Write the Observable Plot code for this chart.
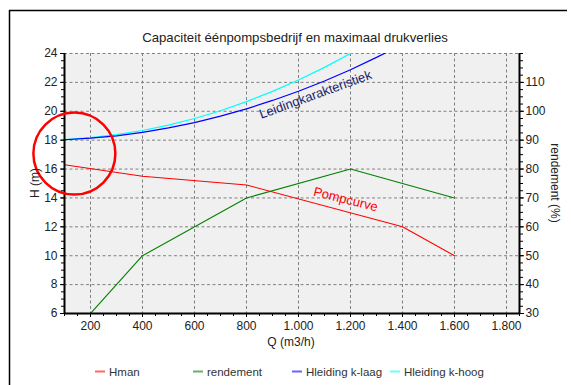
<!DOCTYPE html>
<html><head><meta charset="utf-8">
<script src="https://cdn.jsdelivr.net/npm/d3@7"></script>
<script src="https://cdn.jsdelivr.net/npm/@observablehq/plot@0.6"></script>
<style>body{margin:0;background:#fff;} svg{display:block}</style>
</head><body><div id="chart"></div>
<script>
// Pompcurve (Hman)
const qHman = [100, 400, 800, 1400, 1600];
const hman = [16.3, 15.5, 14.9, 12.0, 10.0];
// Rendement (%)
const qRend = [200, 400, 800, 1200, 1600];
const rendement = [30, 50, 70, 80, 70];
// Leidingkarakteristiek k-laag
const qLaag = [100, 200, 300, 400, 500, 600, 700, 800, 900, 1000, 1100, 1200, 1300, 1350];
const hLaag = [18.03, 18.14, 18.30, 18.54, 18.85, 19.22, 19.66, 20.17, 20.75, 21.39, 22.10, 22.88, 23.73, 24.18];
// Leidingkarakteristiek k-hoog
const qHoog = [100, 200, 300, 400, 500, 600, 700, 800, 900, 1000, 1100, 1200, 1250];
const hHoog = [18.04, 18.17, 18.38, 18.67, 19.04, 19.50, 20.04, 20.67, 21.38, 22.17, 23.04, 24.00, 24.50];

const xTicks = [200, 400, 600, 800, 1000, 1200, 1400, 1600, 1800];
const yTicks = [6, 8, 10, 12, 14, 16, 18, 20, 22, 24];
const rTicks = [30, 40, 50, 60, 70, 80, 90, 100, 110];

const seriesNames = ["Hman", "rendement", "Hleiding k-laag", "Hleiding k-hoog"];
const seriesColors = ["#ff0000", "#008000", "#0000ff", "#00ffff"];

const curveLabels = [
  {q: 1065, h: 21.15, text: "Leidingkarakteristiek", color: "#1c1c6c", rotate: -20},
  {q: 1181, h: 13.9, text: "Pompcurve", color: "#ff0000", rotate: 14}
];
const circleMark = [{q: 138, h: 17.07}];

// right axis (rendement) shares the H scale: 30% at H=6, 5% per metre
const toH = r => 6 + (r - 30) / 5;
const fromH = h => 30 + (h - 6) * 5;

const nl = d3.formatLocale({decimal: ",", thousands: ".", grouping: [3], currency: ["€", ""]});
const fmtX = nl.format(",");

const hmanData = qHman.map((q, i) => ({q, v: hman[i]}));
const rendData = qRend.map((q, i) => ({q, v: toH(rendement[i])}));
const laagData = qLaag.map((q, i) => ({q, v: hLaag[i]}));
const hoogData = qHoog.map((q, i) => ({q, v: hHoog[i]}));

const W = 571, H = 385;
const gridStyle = {stroke: "#808080", strokeOpacity: 1, strokeDasharray: "3,2.5", strokeWidth: 1};

const chart = Plot.plot({
  width: W, height: H,
  marginLeft: 64, marginRight: 52, marginTop: 53, marginBottom: 72,
  style: {fontFamily: "'Liberation Sans', Arial, sans-serif", fontSize: "12px", color: "#222", background: "#fff"},
  x: {domain: [100, 1850]},
  y: {domain: [6, 24]},
  marks: [
    Plot.frame({fill: "#f0f0f0", stroke: null}),
    Plot.gridX(xTicks, gridStyle),
    Plot.gridY(yTicks, gridStyle),
    Plot.line(hoogData, {x: "q", y: "v", stroke: seriesColors[3], strokeWidth: 1.2, clip: true}),
    Plot.line(laagData, {x: "q", y: "v", stroke: seriesColors[2], strokeWidth: 1.2, clip: true}),
    Plot.line(rendData, {x: "q", y: "v", stroke: seriesColors[1], strokeWidth: 1.1, clip: true}),
    Plot.line(hmanData, {x: "q", y: "v", stroke: seriesColors[0], strokeWidth: 1.1, clip: true}),
    Plot.text(curveLabels, {x: "q", y: "h", text: "text", fill: "color", rotate: "rotate", fontSize: 13}),
    // axes
    Plot.axisX(xTicks, {anchor: "bottom", tickSize: 4, tickPadding: 4, tickFormat: fmtX, label: null, stroke: "#000", fill: "#222"}),
    Plot.axisX(d3.range(100, 1851, 50), {anchor: "bottom", tickSize: 3, tickFormat: () => "", label: null, stroke: "#000"}),
    Plot.axisY(yTicks, {anchor: "left", tickSize: 4, tickPadding: 3, label: null, stroke: "#000", fill: "#222"}),
    Plot.axisY(d3.range(6, 24.01, 0.5), {anchor: "left", tickSize: 3, tickFormat: () => "", label: null, stroke: "#000"}),
    Plot.axisY(rTicks.map(toH), {anchor: "right", tickSize: 4, tickPadding: 2, tickFormat: d => Math.round(fromH(d)), label: null, stroke: "#000", fill: "#222"}),
    Plot.axisY(d3.range(30, 120.01, 2.5).map(toH), {anchor: "right", tickSize: 3, tickFormat: () => "", label: null, stroke: "#000"}),
    Plot.ruleX([100, 1850], {stroke: "#000", strokeWidth: 2}),
    Plot.ruleY([6], {stroke: "#000", strokeWidth: 2}),
    Plot.dot(circleMark, {x: "q", y: "h", r: 41, stroke: "#ff0000", strokeWidth: 2.5, fill: "none"})
  ]
});

const svg = d3.select(chart);
const ff = "'Liberation Sans', Arial, sans-serif";
// outer border
svg.append("line").attr("x1", 9).attr("x2", 567).attr("y1", 10.5).attr("y2", 10.5).attr("stroke", "#000").attr("stroke-width", 1.5);
svg.append("line").attr("x1", 9.5).attr("x2", 9.5).attr("y1", 10).attr("y2", H).attr("stroke", "#000").attr("stroke-width", 1.5);
// title
svg.append("text").attr("x", 295).attr("y", 42).attr("text-anchor", "middle").attr("font-family", ff).attr("font-size", 13.2).attr("fill", "#222")
  .text("Capaciteit éénpompsbedrijf en maximaal drukverlies");
// axis labels
svg.append("text").attr("x", 291).attr("y", 346).attr("text-anchor", "middle").attr("font-family", ff).attr("font-size", 12).attr("fill", "#222").text("Q (m3/h)");
svg.append("text").attr("transform", "translate(39,183) rotate(-90)").attr("text-anchor", "middle").attr("font-family", ff).attr("font-size", 12).attr("fill", "#222").text("H (m)");
svg.append("text").attr("transform", "translate(551,183) rotate(90)").attr("text-anchor", "middle").attr("font-family", ff).attr("font-size", 12).attr("fill", "#222").text("rendement (%)");
// legend
const legX = [95, 193, 292, 390];
const lg = svg.append("g").attr("font-family", ff).attr("font-size", 11.5).attr("fill", "#333").attr("text-anchor", "start");
seriesNames.forEach((name, i) => {
  lg.append("line").attr("x1", legX[i]).attr("x2", legX[i] + 10).attr("y1", 371.5).attr("y2", 371.5).attr("stroke", seriesColors[i]).attr("stroke-width", 2).attr("stroke-opacity", 0.6);
  lg.append("text").attr("x", legX[i] + 14).attr("y", 375.5).attr("text-anchor", "start").text(name);
});

document.getElementById("chart").appendChild(chart);
</script>
</body></html>
